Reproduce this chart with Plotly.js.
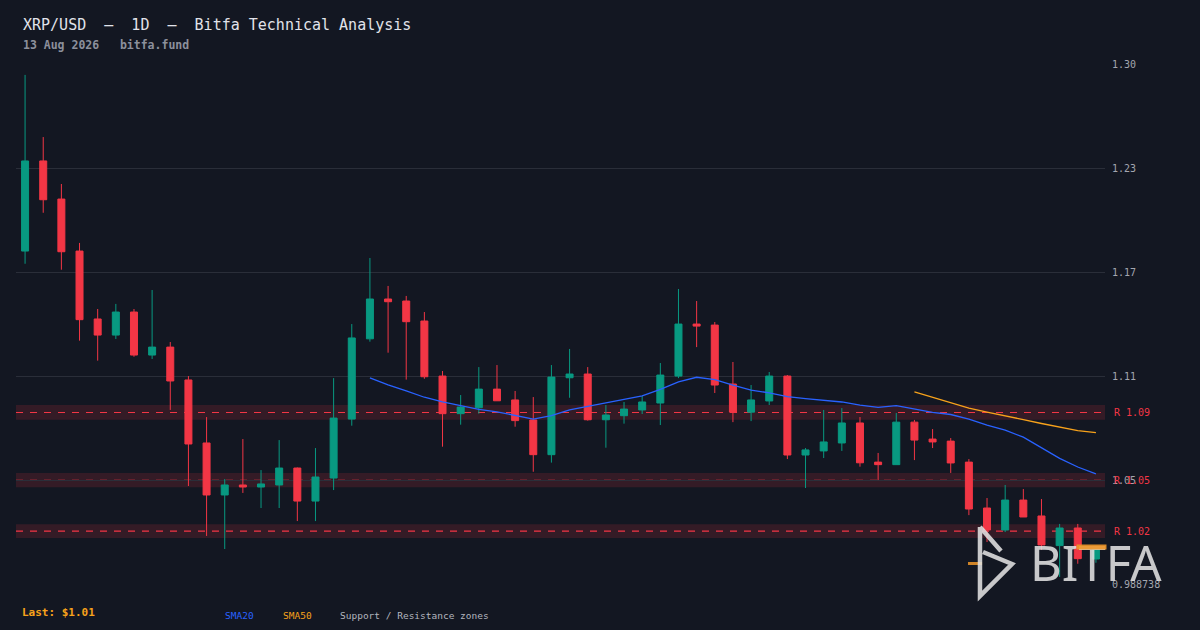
<!DOCTYPE html>
<html>
<head>
<meta charset="utf-8">
<script src="https://cdn.plot.ly/plotly-3.0.1.min.js"></script>
<style>
  html, body { margin: 0; padding: 0; background: #131722; }
  #chart { width: 1200px; height: 630px; }
</style>
</head>
<body>
<div id="chart"></div>
<script>
// ---- Data ----
const days = [0,1,2,3,4,5,6,7,8,9,10,11,12,13,14,15,16,17,18,19,20,21,22,23,24,25,26,27,28,29,30,31,32,33,34,35,36,37,38,39,40,41,42,43,44,45,46,47,48,49,50,51,52,53,54,55,56,57,58,59];
const opens = [1.1853,1.2385,1.2160,1.1853,1.1452,1.1357,1.1493,1.1239,1.1286,1.1092,
               1.0720,1.0413,1.0472,1.0460,1.0472,1.0572,1.0377,1.0513,1.0861,1.1335,
               1.1570,1.1558,1.1440,1.1115,1.0893,1.0928,1.1038,1.0974,1.0856,1.0651,
               1.1105,1.1127,1.0857,1.0881,1.0915,1.0956,1.1115,1.1422,1.1416,1.1068,
               1.0902,1.0968,1.1115,1.0649,1.0673,1.0720,1.0838,1.0607,1.0592,1.0843,
               1.0743,1.0731,1.0607,1.0336,1.0206,1.0383,1.0289,1.0114,1.0218,1.0035];
const highs = [1.2893,1.2526,1.2249,1.1901,1.1511,1.1541,1.1511,1.1623,1.1316,1.1115,
               1.0873,1.0507,1.0743,1.0560,1.0737,1.0575,1.0690,1.1103,1.1422,1.1812,
               1.1647,1.1588,1.1493,1.1145,1.1003,1.1168,1.1180,1.1027,1.0991,1.1180,
               1.1275,1.1168,1.0944,1.0962,1.0997,1.1192,1.1629,1.1558,1.1434,1.1198,
               1.1062,1.1139,1.1121,1.0690,1.0915,1.0926,1.0873,1.0661,1.0897,1.0856,
               1.0802,1.0749,1.0625,1.0395,1.0472,1.0448,1.0389,1.0242,1.0242,1.0106];
const lows  = [1.1778,1.2079,1.1743,1.1324,1.1206,1.1334,1.1229,1.1216,1.0915,1.0466,
               1.0171,1.0094,1.0425,1.0336,1.0336,1.0259,1.0259,1.0442,1.0822,1.1318,
               1.1253,1.1094,1.1099,1.0698,1.0828,1.0893,1.0969,1.0816,1.0550,1.0604,
               1.0987,1.0852,1.0692,1.0834,1.0891,1.0826,1.1103,1.1286,1.1015,1.0843,
               1.0849,1.0944,1.0625,1.0454,1.0631,1.0673,1.0580,1.0501,1.0592,1.0619,
               1.0690,1.0543,1.0294,1.0135,1.0194,1.0283,1.0088,0.9929,1.0007,1.0013];
const closes = [1.2385,1.2156,1.1849,1.1448,1.1357,1.1493,1.1239,1.1286,1.1086,1.0714,
                1.0413,1.0472,1.0460,1.0478,1.0572,1.0377,1.0519,1.0867,1.1340,1.1570,
                1.1554,1.1436,1.1111,1.0893,1.0932,1.1038,1.0969,1.0852,1.0651,1.1109,
                1.1127,1.0857,1.0885,1.0920,1.0962,1.1121,1.1422,1.1410,1.1062,1.0902,
                1.0974,1.1115,1.0649,1.0679,1.0726,1.0838,1.0603,1.0592,1.0843,1.0737,
                1.0726,1.0602,1.0330,1.0206,1.0383,1.0283,1.0118,1.0218,1.0037,1.0094];
const sma20 = [null,null,null,null,null,null,null,null,null,null,
               null,null,null,null,null,null,null,null,null,1.1104,
               1.1063,1.1027,1.0990,1.0962,1.0941,1.0918,1.0904,1.0883,1.0861,1.0881,
               1.0916,1.0936,1.0957,1.0979,1.0998,1.1036,1.1081,1.1108,1.1094,1.1061,
               1.1032,1.1016,1.0993,1.0982,1.0972,1.0962,1.0943,1.0930,1.0940,1.0921,
               1.0901,1.0888,1.0861,1.0825,1.0796,1.0754,1.0689,1.0629,1.0578,1.0538];
const sma50 = [null,null,null,null,null,null,null,null,null,null,
               null,null,null,null,null,null,null,null,null,null,
               null,null,null,null,null,null,null,null,null,null,
               null,null,null,null,null,null,null,null,null,null,
               null,null,null,null,null,null,null,null,null,1.1021,
               1.0988,1.0957,1.0926,1.0902,1.0882,1.0858,1.0835,1.0814,1.0793,1.0781];
const resistanceLevels = [1.09, 1.05, 1.02];
const resistanceLabels = ["R 1.09", "R 1.05", "R 1.02"];
const yTickVals = [0.988738, 1.050138, 1.111538, 1.172938, 1.234338, 1.295738];
const yTickText = ["0.988738", "1.05", "1.11", "1.17", "1.23", "1.30"];
const titleText = "XRP/USD  \u2014  1D  \u2014  Bitfa Technical Analysis";
const subtitleText = "13 Aug 2026   bitfa.fund";
const lastText = "Last: $1.01";
const legendLabels = ["SMA20", "SMA50", "Support / Resistance zones"];
const logoText = "BITFA";

// ---- Style ----
const BG = "#131722";
const UP = "#089981";
const DOWN = "#F23645";
const MONO = "DejaVu Sans Mono, Liberation Mono, monospace";
const zoneHalf = 0.004;

const traces = [
  {
    type: "candlestick",
    x: days, open: opens, high: highs, low: lows, close: closes,
    increasing: { line: { color: UP, width: 1 }, fillcolor: UP },
    decreasing: { line: { color: DOWN, width: 1 }, fillcolor: DOWN },
    whiskerwidth: 0,
    hoverinfo: "skip",
    showlegend: false
  },
  {
    type: "scatter", mode: "lines", x: days, y: sma20,
    line: { color: "#2962FF", width: 1.3 }, hoverinfo: "skip", showlegend: false
  },
  {
    type: "scatter", mode: "lines", x: days, y: sma50,
    line: { color: "#F7A21B", width: 1.3 }, hoverinfo: "skip", showlegend: false
  }
];

const shapes = [];
const annotations = [];
resistanceLevels.forEach((lv, k) => {
  shapes.push({
    type: "rect", xref: "paper", yref: "y", x0: 0, x1: 1,
    y0: lv * (1 - zoneHalf), y1: lv * (1 + zoneHalf),
    fillcolor: "rgba(242,54,69,0.15)", line: { width: 0 }, layer: "below"
  });
  shapes.push({
    type: "line", xref: "paper", yref: "y", x0: 0, x1: 1, y0: lv, y1: lv,
    line: { color: DOWN, width: 1.2, dash: "7px,7px" }, layer: "below"
  });
  annotations.push({
    xref: "paper", yref: "y", x: 1, y: lv, xshift: 7, xanchor: "left", yanchor: "middle",
    text: resistanceLabels[k], showarrow: false,
    font: { family: MONO, size: 10, color: DOWN }
  });
});

// Title / subtitle
annotations.push({
  xref: "paper", yref: "paper", x: 0, xshift: 5, y: 1, yshift: 39, xanchor: "left", yanchor: "middle",
  text: titleText, showarrow: false, font: { family: MONO, size: 15, color: "#e1e3ea" }
});
annotations.push({
  xref: "paper", yref: "paper", x: 0, xshift: 5, y: 1, yshift: 19, xanchor: "left", yanchor: "middle",
  text: "<b>" + subtitleText + "</b>", showarrow: false, font: { family: MONO, size: 11.5, color: "#8c909c" }
});
// Bottom legend
annotations.push({
  xref: "paper", yref: "paper", x: 0, xshift: 4, y: 0, yshift: -28, xanchor: "left", yanchor: "middle",
  text: "<b>" + lastText + "</b>", showarrow: false, font: { family: MONO, size: 11, color: "#F7A21B" }
});
const legendColors = ["#2962FF", "#F7A21B", "#b2b5be"];
const legendX = [0.1905, 0.2433, 0.2957];
legendLabels.forEach((t, k) => {
  annotations.push({
    xref: "paper", yref: "paper", x: legendX[k], y: 0, yshift: -31, xanchor: "left", yanchor: "middle",
    text: t, showarrow: false, font: { family: MONO, size: 9.5, color: legendColors[k] }
  });
});
// Logo watermark
shapes.push({
  type: "rect", xref: "paper", yref: "paper", x0: 0.8742, x1: 0.8871, y0: 0.0365, y1: 0.0423,
  fillcolor: "rgba(240,150,40,0.85)", line: { width: 0 }, layer: "above"
});
shapes.push({
  type: "path", xref: "paper", yref: "paper",
  path: "M0.8852,0.1096 L0.9045,0.0635 M0.8852,0.1096 L0.8852,-0.0231 L0.9146,0.0385 L0.8880,0.0615",
  line: { color: "rgba(225,225,225,0.88)", width: 4.5 }, layer: "above"
});
annotations.push({
  xref: "paper", yref: "paper", x: 0.9936, y: 0.0423, xshift: -2, xanchor: "center", yanchor: "middle",
  text: logoText, showarrow: false,
  font: { family: "Noto Sans, Inter, sans-serif", size: 49, color: "rgba(225,225,225,0.88)" }
});
// orange top bar of the logo's "T", drawn over the text
annotations.push({
  xref: "paper", yref: "paper", x: 0.9734, y: 0.0702, xanchor: "left", yanchor: "middle",
  text: " ", showarrow: false, width: 29, height: 4, borderpad: 0,
  bgcolor: "rgba(240,150,40,0.9)", font: { size: 2 }
});

const layout = {
  width: 1200, height: 630,
  paper_bgcolor: BG, plot_bgcolor: BG,
  margin: { l: 16, r: 95, t: 64, b: 46 },
  showlegend: false,
  hovermode: false,
  boxgap: 0.45,
  xaxis: {
    range: [-0.5, 59.5], showgrid: false, zeroline: false, showticklabels: false,
    showline: false, ticks: "", rangeslider: { visible: false }, fixedrange: true
  },
  yaxis: {
    side: "right", range: [0.988738, 1.295738], tickmode: "array",
    tickvals: yTickVals, ticktext: yTickText, ticklabelstandoff: 6,
    gridcolor: "#2a2e39", gridwidth: 1, zeroline: false, showline: false, ticks: "",
    tickfont: { family: MONO, size: 10, color: "#a3a6af" }, fixedrange: true
  },
  shapes: shapes,
  annotations: annotations
};

Plotly.newPlot("chart", traces, layout, { displayModeBar: false, staticPlot: true });
</script>
</body>
</html>
